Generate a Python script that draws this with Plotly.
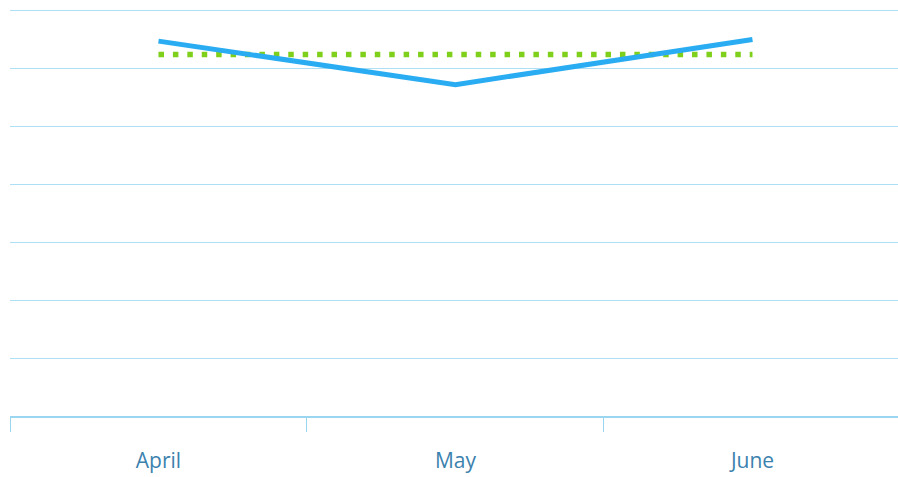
import plotly.graph_objects as go

# Monthly values
months = ["April", "May", "June"]
actual = [64.7, 57.2, 65.0]
target = [62.4, 62.4, 62.4]

fig = go.Figure()

# Target level as a dotted green line
fig.add_trace(go.Scatter(
    x=months, y=target, mode="lines",
    line=dict(color="#7fd01a", width=5.5, dash="5.5px,8.92px"),
    hoverinfo="skip", showlegend=False,
))

# Actual values as a solid blue line
fig.add_trace(go.Scatter(
    x=months, y=actual, mode="lines",
    line=dict(color="#2aacf2", width=5),
    showlegend=False,
))

fig.update_layout(
    width=898, height=477,
    margin=dict(l=10, r=0, t=8.5, b=61),
    paper_bgcolor="white", plot_bgcolor="white",
    font=dict(family="Open Sans", color="#3b82ae"),
)

fig.update_xaxes(
    type="category", range=[-0.5, 2.49],
    showgrid=False, zeroline=False,
    showline=True, linecolor="#9ad6f0", linewidth=1.5,
    ticks="outside", tickson="boundaries", ticklen=14,
    tickcolor="#9ad6f0", tickwidth=1,
    ticklabelstandoff=25,
    tickfont=dict(size=21, color="#3b82ae"),
)

fig.update_yaxes(
    range=[0, 70.25], dtick=10,
    showgrid=True, gridcolor="#aedff4", gridwidth=1.3,
    zeroline=False, showticklabels=False, ticks="",
    showline=False,
)

fig.write_html("out.html")
